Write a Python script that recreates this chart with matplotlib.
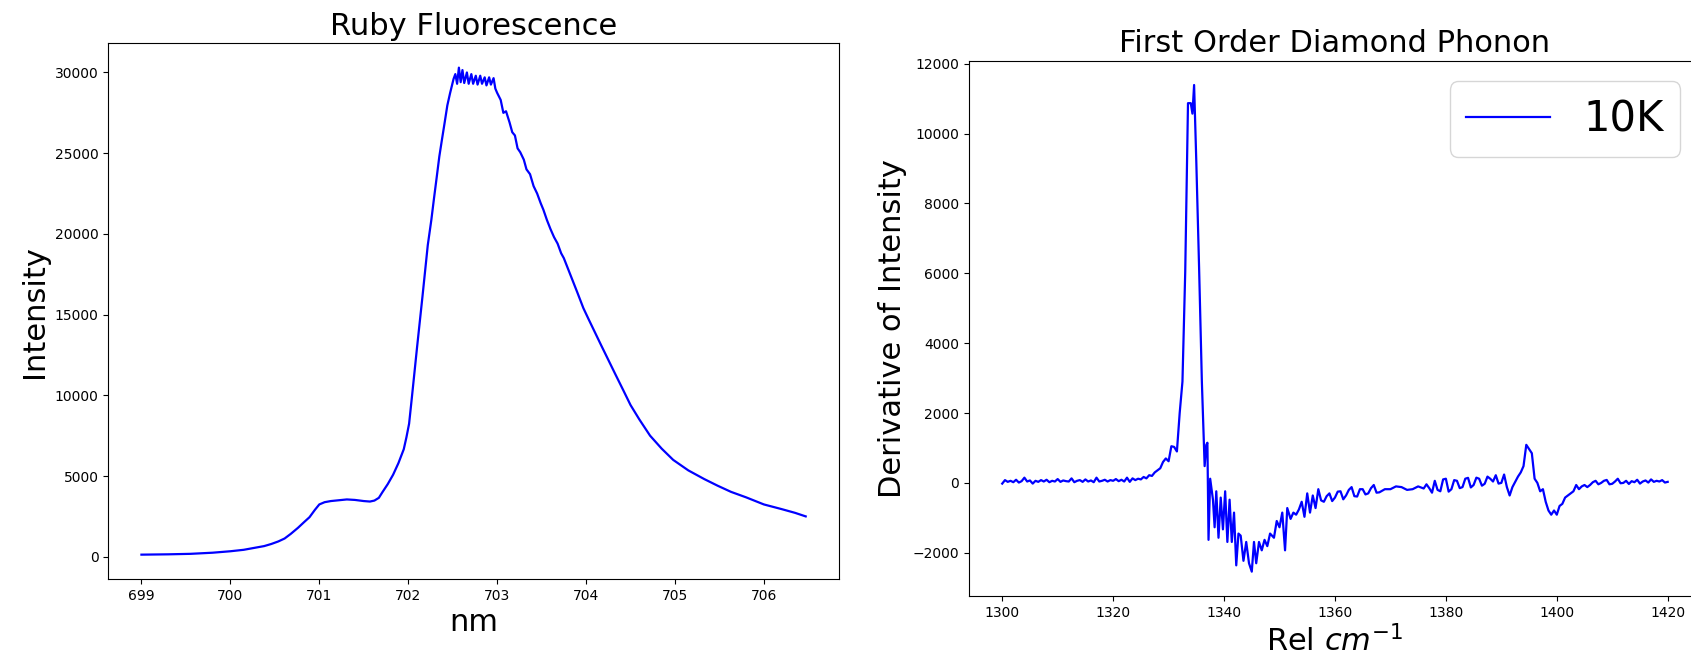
import matplotlib
matplotlib.use("Agg")
import matplotlib.pyplot as plt
import numpy as np

# --- Ruby fluorescence spectrum (nm, intensity) ---
ruby_nm = [699.00, 699.30, 699.55, 699.80, 700.00, 700.15, 700.27, 700.38, 700.46,
           700.54, 700.61, 700.68, 700.76, 700.83, 700.89, 700.95, 701.00, 701.06,
           701.13, 701.22, 701.31, 701.40, 701.50, 701.57, 701.62, 701.67, 701.71,
           701.77, 701.83, 701.89, 701.95, 701.98, 702.01, 702.04, 702.07, 702.10,
           702.13, 702.16, 702.19, 702.22, 702.26, 702.29, 702.32, 702.35, 702.38,
           702.41, 702.44, 702.47, 702.49, 702.51, 702.53, 702.55, 702.57, 702.59,
           702.61, 702.63, 702.66, 702.68, 702.71, 702.73, 702.76, 702.78, 702.81,
           702.83, 702.86, 702.88, 702.91, 702.93, 702.96, 702.98, 703.00, 703.04,
           703.07, 703.10, 703.14, 703.17, 703.20, 703.23, 703.26, 703.30, 703.33,
           703.37, 703.41, 703.45, 703.49, 703.52, 703.56, 703.60, 703.64, 703.68,
           703.72, 703.75, 703.80, 703.85, 703.90, 703.97, 704.03, 704.10, 704.17,
           704.25, 704.33, 704.42, 704.50, 704.60, 704.72, 704.85, 704.98, 705.15,
           705.33, 705.48, 705.63, 705.80, 706.00, 706.20, 706.35, 706.47]
ruby_int = [130, 150, 180, 250, 340, 430, 550, 660, 790,
            950, 1130, 1420, 1790, 2150, 2450, 2900, 3240, 3380,
            3450, 3500, 3550, 3520, 3450, 3420, 3480, 3650, 4000,
            4500, 5080, 5800, 6660, 7400, 8240, 9800, 11400, 13000,
            14550, 16100, 17700, 19300, 20860, 22200, 23490, 24800, 25860,
            26900, 27960, 28700, 29150, 29600, 29900, 29300, 30300, 29400,
            30150, 29350, 30000, 29300, 29900, 29300, 29800, 29250, 29800,
            29300, 29700, 29200, 29700, 29250, 29650, 29000, 28740, 28300,
            27500, 27600, 26900, 26300, 26100, 25300, 25060, 24600, 24000,
            23700, 22960, 22500, 21900, 21500, 20860, 20300, 19800, 19400,
            18800, 18500, 17800, 17100, 16400, 15400, 14700, 13900, 13100,
            12200, 11300, 10300, 9400, 8500, 7500, 6700, 6000, 5350,
            4810, 4400, 4020, 3680, 3240, 2950, 2720, 2500]

# --- First order diamond phonon, derivative of intensity ---
phonon_cm = [1300.0, 1300.5, 1301.0, 1301.5, 1302.0, 1302.5, 1303.0, 1303.5, 1304.0,
             1304.5, 1305.0, 1305.5, 1306.0, 1306.5, 1307.0, 1307.5, 1308.0, 1308.5,
             1309.0, 1309.5, 1310.0, 1310.5, 1311.0, 1311.5, 1312.0, 1312.5, 1313.0,
             1313.5, 1314.0, 1314.5, 1315.0, 1315.5, 1316.0, 1316.5, 1317.0, 1317.5,
             1318.0, 1318.5, 1319.0, 1319.5, 1320.0, 1320.5, 1321.0, 1321.5, 1322.0,
             1322.5, 1323.0, 1323.5, 1324.0, 1324.5, 1325.0, 1325.5, 1326.0, 1326.5,
             1327.0, 1327.5, 1328.0, 1328.5, 1329.0, 1329.5, 1330.0, 1330.5, 1331.0,
             1331.5, 1332.0, 1332.5, 1333.0, 1333.5, 1334.0, 1334.3, 1334.6, 1335.0,
             1335.5, 1336.0, 1336.5, 1336.8, 1337.0, 1337.2, 1337.5, 1338.0, 1338.3,
             1338.6, 1339.0, 1339.4, 1339.8, 1340.2, 1340.6, 1341.0, 1341.4, 1341.8,
             1342.2, 1342.6, 1343.0, 1343.5, 1344.0, 1344.5, 1345.0, 1345.4, 1345.8,
             1346.3, 1346.8, 1347.3, 1347.8, 1348.3, 1349.0, 1349.5, 1350.0, 1350.5,
             1351.0, 1351.4, 1352.0, 1352.5, 1353.0, 1353.5, 1354.0, 1354.5, 1355.0,
             1355.5, 1356.0, 1356.5, 1357.0, 1357.5, 1358.0, 1358.5, 1359.0, 1359.5,
             1360.0, 1360.5, 1361.0, 1361.5, 1362.0, 1362.5, 1363.0, 1363.5, 1364.0,
             1364.5, 1365.0, 1365.5, 1366.0, 1366.5, 1367.0, 1367.5, 1368.0, 1369.0,
             1370.0, 1371.0, 1372.0, 1373.0, 1374.0, 1375.0, 1376.0, 1376.5, 1377.0,
             1377.5, 1378.0, 1378.5, 1379.0, 1379.5, 1380.0, 1380.5, 1381.0, 1381.5,
             1382.0, 1382.5, 1383.0, 1383.5, 1384.0, 1384.5, 1385.0, 1385.5, 1386.0,
             1386.5, 1387.0, 1387.5, 1388.0, 1388.5, 1389.0, 1389.5, 1390.0, 1390.5,
             1391.0, 1391.5, 1392.0, 1392.5, 1393.0, 1393.5, 1394.0, 1394.5, 1395.0,
             1395.5, 1396.0, 1396.5, 1397.0, 1397.5, 1398.0, 1398.5, 1399.0, 1399.5,
             1400.0, 1400.5, 1401.0, 1401.5, 1402.0, 1402.5, 1403.0, 1403.5, 1404.0,
             1404.5, 1405.0, 1405.5, 1406.0, 1406.5, 1407.0, 1407.5, 1408.0, 1408.5,
             1409.0, 1409.5, 1410.0, 1410.5, 1411.0, 1411.5, 1412.0, 1412.5, 1413.0,
             1413.5, 1414.0, 1414.5, 1415.0, 1415.5, 1416.0, 1416.5, 1417.0, 1417.5,
             1418.0, 1418.5, 1419.0, 1419.5, 1420.0]
phonon_dint = [-20, 80, 30, 60, 20, 90, 10, 50, 150,
               40, 70, -20, 60, 30, 80, 40, 90, 20,
               60, 40, 110, 30, 70, 50, 40, 130, 20,
               60, 80, 30, 100, 40, 70, 20, 150, 40,
               60, 90, 40, 80, 60, 110, 50, 90, 40,
               150, 30, 130, 80, 120, 100, 170, 130, 220,
               200, 300, 360, 420, 600, 700, 620, 1050, 1030,
               900, 2000, 2900, 6040, 10870, 10870, 10570, 11390, 9180,
               6160, 2900, 480, 1090, 1150, -1630, 120, -480, -1270,
               -240, -1570, -420, -1330, -240, -1690, -480, -1690, -850,
               -2360, -1450, -1510, -2230, -1690, -2300, -2540, -1690, -2300,
               -1690, -1930, -1630, -1810, -1450, -1570, -1090, -1270, -850,
               -1930, -720, -1030, -850, -910, -760, -540, -970, -300,
               -850, -360, -720, -180, -500, -540, -380, -300, -520,
               -420, -250, -240, -470, -360, -200, -120, -380, -390,
               -180, -180, -330, -300, -150, -60, -280, -270, -180,
               -180, -100, -120, -200, -180, -100, -160, -40, -150,
               -280, 60, -200, -240, 100, 120, -250, -180, 80,
               60, -150, -120, 120, 145, -130, -60, 150, 120,
               -80, -25, 180, 120, 40, 220, -20, 0, 240,
               -120, -360, -120, 30, 180, 300, 480, 1090, 970,
               850, 120, 0, -240, -180, -540, -790, -910, -790,
               -910, -660, -600, -420, -360, -300, -240, -60, -180,
               -100, -60, -120, -60, 20, 60, -40, 0, 60,
               85, -40, -25, 40, 120, -10, 0, 60, -30,
               50, 20, 90, -20, 40, 70, 10, 100, 30,
               60, 40, 80, 10, 30]

plt.rcParams['font.family'] = 'DejaVu Sans'

fig = plt.figure(figsize=(16.91, 6.63), dpi=100)

# panel izquierdo
ax1 = fig.add_axes([0.0640, 0.1267, 0.4321, 0.8080])
ax1.plot(ruby_nm, ruby_int, 'b-', linewidth=1.6)
ax1.set_title("Ruby Fluorescence", fontsize=22)
ax1.set_xlabel("nm", fontsize=22)
ax1.set_ylabel("Intensity", fontsize=22)
ax1.tick_params(labelsize=10)

# panel derecho (se sale un poco del borde, como en el original)
ax2 = fig.add_axes([0.5730, 0.1011, 0.4329, 0.8074])
ax2.plot(phonon_cm, phonon_dint, 'b-', linewidth=1.6, label='10K')
ax2.set_title("First Order Diamond Phonon", fontsize=22)
ax2.set_xlabel("Rel $cm^{-1}$", fontsize=22)
ax2.set_ylabel("Derivative of Intensity", fontsize=22)
ax2.tick_params(labelsize=10)
ax2.legend(loc='upper right', fontsize=30)

fig.savefig("out.png", dpi=100)
